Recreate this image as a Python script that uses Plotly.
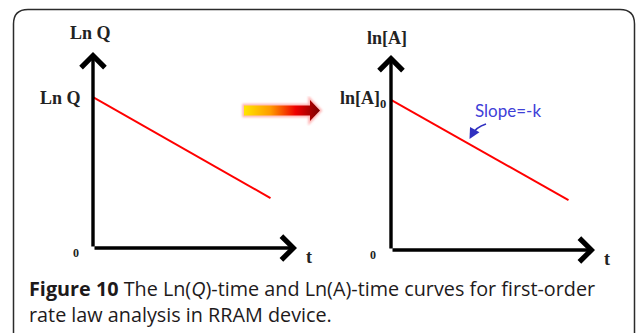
import base64
import plotly.graph_objects as go

# ---- data (schematic values, normalised axes) ----
t_vals = [0.0, 0.87]
lnQ_vals = [0.77, 0.255]
lnA_vals = [0.77, 0.256]

left_title = "Ln Q"
left_intercept = "Ln Q"
right_title = "ln[A]"
right_intercept = "ln[A]<sub>0</sub>"
slope_text = "Slope=-k"
x_label = "t"
origin_label = "0"
caption = ("<b>Figure 10</b> The Ln(<i>Q</i>)-time and Ln(A)-time curves for first-order"
           "<br>rate law analysis in RRAM device.")

W, H = 637, 333
SERIF = "Liberation Serif, Times New Roman, serif"
SANS = "Open Sans, DejaVu Sans, sans-serif"

fig = go.Figure()

def px_dom_x(a, b):
    return [a / W, b / W]

def px_dom_y(top, bottom):
    return [1 - bottom / H, 1 - top / H]

fig.update_layout(
    xaxis=dict(range=[0, W], domain=[0, 1], visible=False, fixedrange=True),
    yaxis=dict(range=[H, 0], domain=[0, 1], visible=False, fixedrange=True),
    xaxis2=dict(range=[0, 1], domain=px_dom_x(93, 297), visible=False, anchor="y2"),
    yaxis2=dict(range=[0, 1], domain=px_dom_y(52, 248), visible=False, anchor="x2"),
    xaxis3=dict(range=[0, 1], domain=px_dom_x(391, 595), visible=False, anchor="y3"),
    yaxis3=dict(range=[0, 1], domain=px_dom_y(55, 250), visible=False, anchor="x3"),
)

# red lines
fig.add_trace(go.Scatter(x=t_vals, y=lnQ_vals, xaxis="x2", yaxis="y2", mode="lines",
                         line=dict(color="#ff0000", width=2), showlegend=False))
fig.add_trace(go.Scatter(x=t_vals, y=lnA_vals, xaxis="x3", yaxis="y3", mode="lines",
                         line=dict(color="#ff0000", width=2), showlegend=False))

# gradient arrow decoration (svg image)
svg = """<svg xmlns='http://www.w3.org/2000/svg' width='84' height='30' viewBox='0 0 84 30'>
<defs>
<linearGradient id='g' x1='0' y1='0' x2='1' y2='0'>
<stop offset='0' stop-color='#ffe600'/>
<stop offset='0.35' stop-color='#ff9a00'/>
<stop offset='0.68' stop-color='#ee0000'/>
<stop offset='1' stop-color='#7a0000'/>
</linearGradient>
<filter id='b' x='-20%' y='-50%' width='140%' height='200%'><feGaussianBlur stdDeviation='1.2'/></filter>
</defs>
<polygon points='4,9.5 70,9.5 70,4 80,14.5 70,25 70,19.5 4,19.5' fill='none' stroke='#ff8080' stroke-width='3.5' stroke-opacity='0.6' filter='url(#b)'/>
<polygon points='4,9.5 70,9.5 70,4 80,14.5 70,25 70,19.5 4,19.5' fill='url(#g)'/>
</svg>"""
src = "data:image/svg+xml;base64," + base64.b64encode(svg.encode()).decode()
fig.add_layout_image(dict(source=src, xref="paper", yref="paper",
                          x=240 / W, y=1 - 96 / H, sizex=84 / W, sizey=30 / H,
                          xanchor="left", yanchor="top", sizing="stretch", layer="above"))

ann = []
shapes = []

# border (open at bottom)
shapes.append(dict(type="path", xref="x", yref="y",
                   path="M 13.5,340 L 13.5,24 Q 13.5,9.5 28,9.5 L 620,9.5 Q 634.5,9.5 634.5,24 L 634.5,340",
                   line=dict(color="#2b2b2b", width=1.5)))

# axis arrows
for xa, ya in (("x2", "y2"), ("x3", "y3")):
    ann.append(dict(x=0, y=1, ax=0, ay=0, xref=xa, yref=ya, axref=xa, ayref=ya,
                    showarrow=True, arrowhead=4, arrowsize=1.35, arrowwidth=3.4,
                    arrowcolor="#000", text=""))
    ann.append(dict(x=1, y=0, ax=0, ay=0, xref=xa, yref=ya, axref=xa, ayref=ya,
                    showarrow=True, arrowhead=4, arrowsize=1.35, arrowwidth=3.4,
                    arrowcolor="#000", text=""))

# left panel text
ann.append(dict(x=90, y=33, xref="x", yref="y", text=f"<b>{left_title}</b>", showarrow=False,
                font=dict(family=SERIF, size=18, color="#222")))
ann.append(dict(x=83, y=98, xref="x", yref="y", text=f"<b>{left_intercept}</b>", showarrow=False,
                xanchor="right", font=dict(family=SERIF, size=18, color="#222")))
ann.append(dict(x=76, y=253, xref="x", yref="y", text=f"<b>{origin_label}</b>", showarrow=False,
                font=dict(family=SERIF, size=12, color="#222")))
ann.append(dict(x=309, y=257, xref="x", yref="y", text=f"<b>{x_label}</b>", showarrow=False,
                font=dict(family=SERIF, size=18, color="#222")))

# right panel text
ann.append(dict(x=387, y=38, xref="x", yref="y", text=f"<b>{right_title}</b>", showarrow=False,
                font=dict(family=SERIF, size=18, color="#222")))
ann.append(dict(x=388, y=99, xref="x", yref="y", text=f"<b>{right_intercept}</b>", showarrow=False,
                xanchor="right", font=dict(family=SERIF, size=18, color="#222")))
ann.append(dict(x=373, y=255, xref="x", yref="y", text=f"<b>{origin_label}</b>", showarrow=False,
                font=dict(family=SERIF, size=12, color="#222")))
ann.append(dict(x=607, y=259, xref="x", yref="y", text=f"<b>{x_label}</b>", showarrow=False,
                font=dict(family=SERIF, size=18, color="#222")))

# slope label + hook arrow
ann.append(dict(x=508, y=110, xref="x", yref="y", text=slope_text, showarrow=False,
                font=dict(family="Lato, Open Sans, sans-serif", size=17, color="#4040d8")))
shapes.append(dict(type="path", xref="x", yref="y", path="M 486,124 Q 476,127 472,135",
                   line=dict(color="#3030c0", width=1.8)))
ann.append(dict(x=469.5, y=139, ax=472, ay=134.5, xref="x", yref="y", axref="x", ayref="y",
                showarrow=True, arrowhead=2, arrowsize=1.2, arrowwidth=1.8,
                arrowcolor="#3030c0", text=""))

# caption
ann.append(dict(x=28, y=301.5, xref="x", yref="y", text=caption, showarrow=False,
                xanchor="left", yanchor="middle", align="left", borderpad=0,
                font=dict(family=SANS, size=19.8, color="#1e1a1b")))

fig.update_layout(width=W, height=H, margin=dict(l=0, r=0, t=0, b=0),
                  paper_bgcolor="white", plot_bgcolor="white",
                  annotations=ann, shapes=shapes, showlegend=False)

fig.write_html("out.html")
